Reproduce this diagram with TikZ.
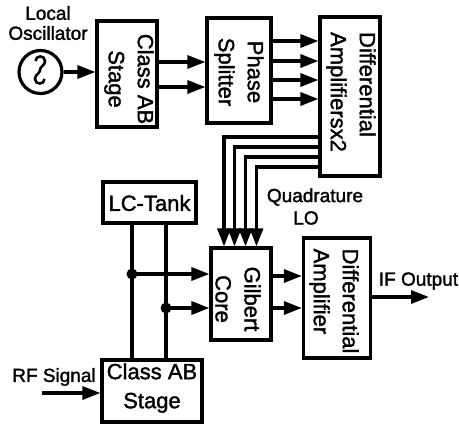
\documentclass[tikz,border=0pt]{standalone}
\usepackage{fontspec}
\setmainfont{Liberation Sans}[FakeBold=1.6]
\usetikzlibrary{arrows.meta}
\begin{document}
\begin{tikzpicture}[x=1pt,y=-1pt,
  line width=3.2pt,
  arr/.style={-{Triangle[length=18pt,width=13pt]}},
  box/.style={draw, inner sep=0pt},
  vtxt/.style={rotate=-90, inner sep=0pt, font=\fontsize{22}{29}\selectfont},
  htxt/.style={inner sep=0pt, font=\fontsize{22}{29}\selectfont},
  lbl/.style={inner sep=0pt, font=\fontsize{19}{20}\selectfont}
]
\useasboundingbox (0,0) rectangle (459,424);

% oscillator
\node[draw, circle, minimum size=43pt, inner sep=0pt] (osc) at (40.5,72) {};
\draw[line width=2.6pt] (35.5,61) .. controls (35.5,55) and (45,55) .. (45,61)
  .. controls (45,66) and (40,66) .. (40,70)
  .. controls (40,74) and (35,74) .. (35,79)
  .. controls (35,85) and (44.5,85) .. (44.5,79);
\node[lbl, align=center] (losc) at (48,23) {Local\\Oscillator};

% boxes
\node[box, minimum width=60pt, minimum height=106pt] (abT) at (127,74) {};
\node[vtxt, align=center] (abTt) at (129,79) {Class AB\\Stage};

\node[box, minimum width=64pt, minimum height=105pt] (ps) at (239,70.5) {};
\node[vtxt, align=center] (pst) at (239,72) {Phase\\Splitter};

\node[box, minimum width=60pt, minimum height=159pt] (da2) at (350,96.5) {};
\node[vtxt, align=left] (da2t) at (351,92) {Differential\\Amplifiersx2};

\node[box, minimum width=60pt, minimum height=92pt] (gc) at (241,294) {};
\node[vtxt, align=center] (gct) at (238,299) {Gilbert\\Core};

\node[box, minimum width=67pt, minimum height=120pt] (da) at (337,298) {};
\node[vtxt, align=left] (dat) at (334,301) {Differential\\Amplifier};

\node[box, minimum width=93pt, minimum height=41pt] (lc) at (149.5,202.5) {};
\node[htxt] (lct) at (149.5,203) {LC-Tank};

\node[box, minimum width=100pt, minimum height=62pt] (abB) at (152,391) {};
\node[htxt, align=center] (abBt) at (152,388) {Class AB\\Stage};

% labels
\node[lbl] (q1) at (315,197) {Quadrature};
\node[lbl] (q2) at (306,218) {LO};
\node[lbl] (ifo) at (418.5,281) {IF Output};
\node[lbl] (rfs) at (54,377) {RF Signal};

% LO chain
\draw[arr] (osc.east) -- (abT.west |- osc.east);
\draw[arr] (abT.east |- 0,62) -- (ps.west |- 0,62);
\draw[arr] (abT.east |- 0,87) -- (ps.west |- 0,87);
\foreach \yy in {41,61,80,99}
  \draw[arr] (ps.east |- 0,\yy) -- (da2.west |- 0,\yy);

% quadrature LO to Gilbert
\draw[arr] (da2.west |- 0,137) -| (gc.north -| 224,0);
\draw[arr] (da2.west |- 0,147) -| (gc.north -| 234.5,0);
\draw[arr] (da2.west |- 0,157) -| (gc.north -| 245.5,0);
\draw[arr] (da2.west |- 0,167) -| (gc.north -| 256.5,0);

% Gilbert to diff amp
\draw[arr] (gc.east |- 0,276) -- (da.west |- 0,276);
\draw[arr] (gc.east |- 0,308) -- (da.west |- 0,308);
\coordinate (ifend) at (429,297);
\draw[arr] (da.east |- ifend) -- (ifend);

% LC tank lines and RF stage
\draw (lc.south -| 132,0) -- (abB.north -| 132,0);
\draw (lc.south -| 166,0) -- (abB.north -| 166,0);
\coordinate (j1) at (132,274);
\coordinate (j2) at (166,308);
\fill (j1) circle (5.5pt);
\fill (j2) circle (5.5pt);
\draw[arr] (j1) -- (gc.west |- j1);
\draw[arr] (j2) -- (gc.west |- j2);
\coordinate (rfin) at (42,393);
\draw[arr] (rfin) -- (abB.west |- rfin);
\end{tikzpicture}
\end{document}
